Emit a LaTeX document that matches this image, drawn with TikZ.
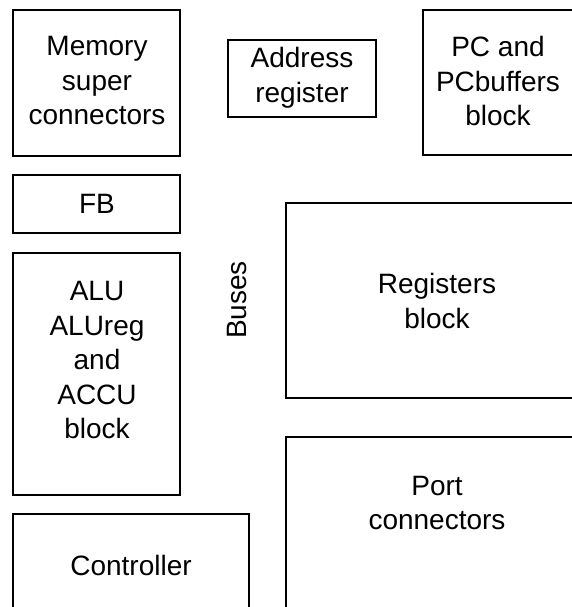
\documentclass[tikz,border=0pt]{standalone}
\usepackage{fontspec}
\setmainfont{Liberation Sans}
\begin{document}
\begin{tikzpicture}[x=1pt,y=-1pt,
  box/.style={draw=black,line width=1.4pt},
  lbl/.style={align=center,font=\fontsize{28}{34.5}\selectfont,inner sep=0pt}]
\useasboundingbox (0,0) rectangle (572,607);
\clip (0,0) rectangle (572,607);
% block outlines (some run off the sheet)
\draw[box] (13,10) rectangle (180,156);
\draw[box] (13,175) rectangle (180,233);
\draw[box] (13,253) rectangle (180,495);
\draw[box] (13,514) rectangle (249,640);
\draw[box] (228,40) rectangle (376,117);
\draw[box] (423,10) rectangle (580,155);
\draw[box] (286,203) rectangle (600,398);
\draw[box] (286,437) rectangle (600,640);
% labels
\node[lbl] (mem) at (97,81) {Memory\\super\\connectors};
\node[lbl] (fb) at (97,204) {FB};
\node[lbl] (alu) at (97,360) {ALU\\ALUreg\\and\\ACCU\\block};
\node[lbl] (ctl) at (131,565) {Controller};
\node[lbl] (addr) at (302,78) {Address\\register};
\node[lbl] (pc) at (498,81) {PC and\\PCbuffers\\block};
\node[lbl] (regs) at (437,301) {Registers\\block};
\node[lbl] (port) at (437,503) {Port\\connectors};
\node[lbl,rotate=90] (bus) at (237,300) {Buses};
\end{tikzpicture}
\end{document}
